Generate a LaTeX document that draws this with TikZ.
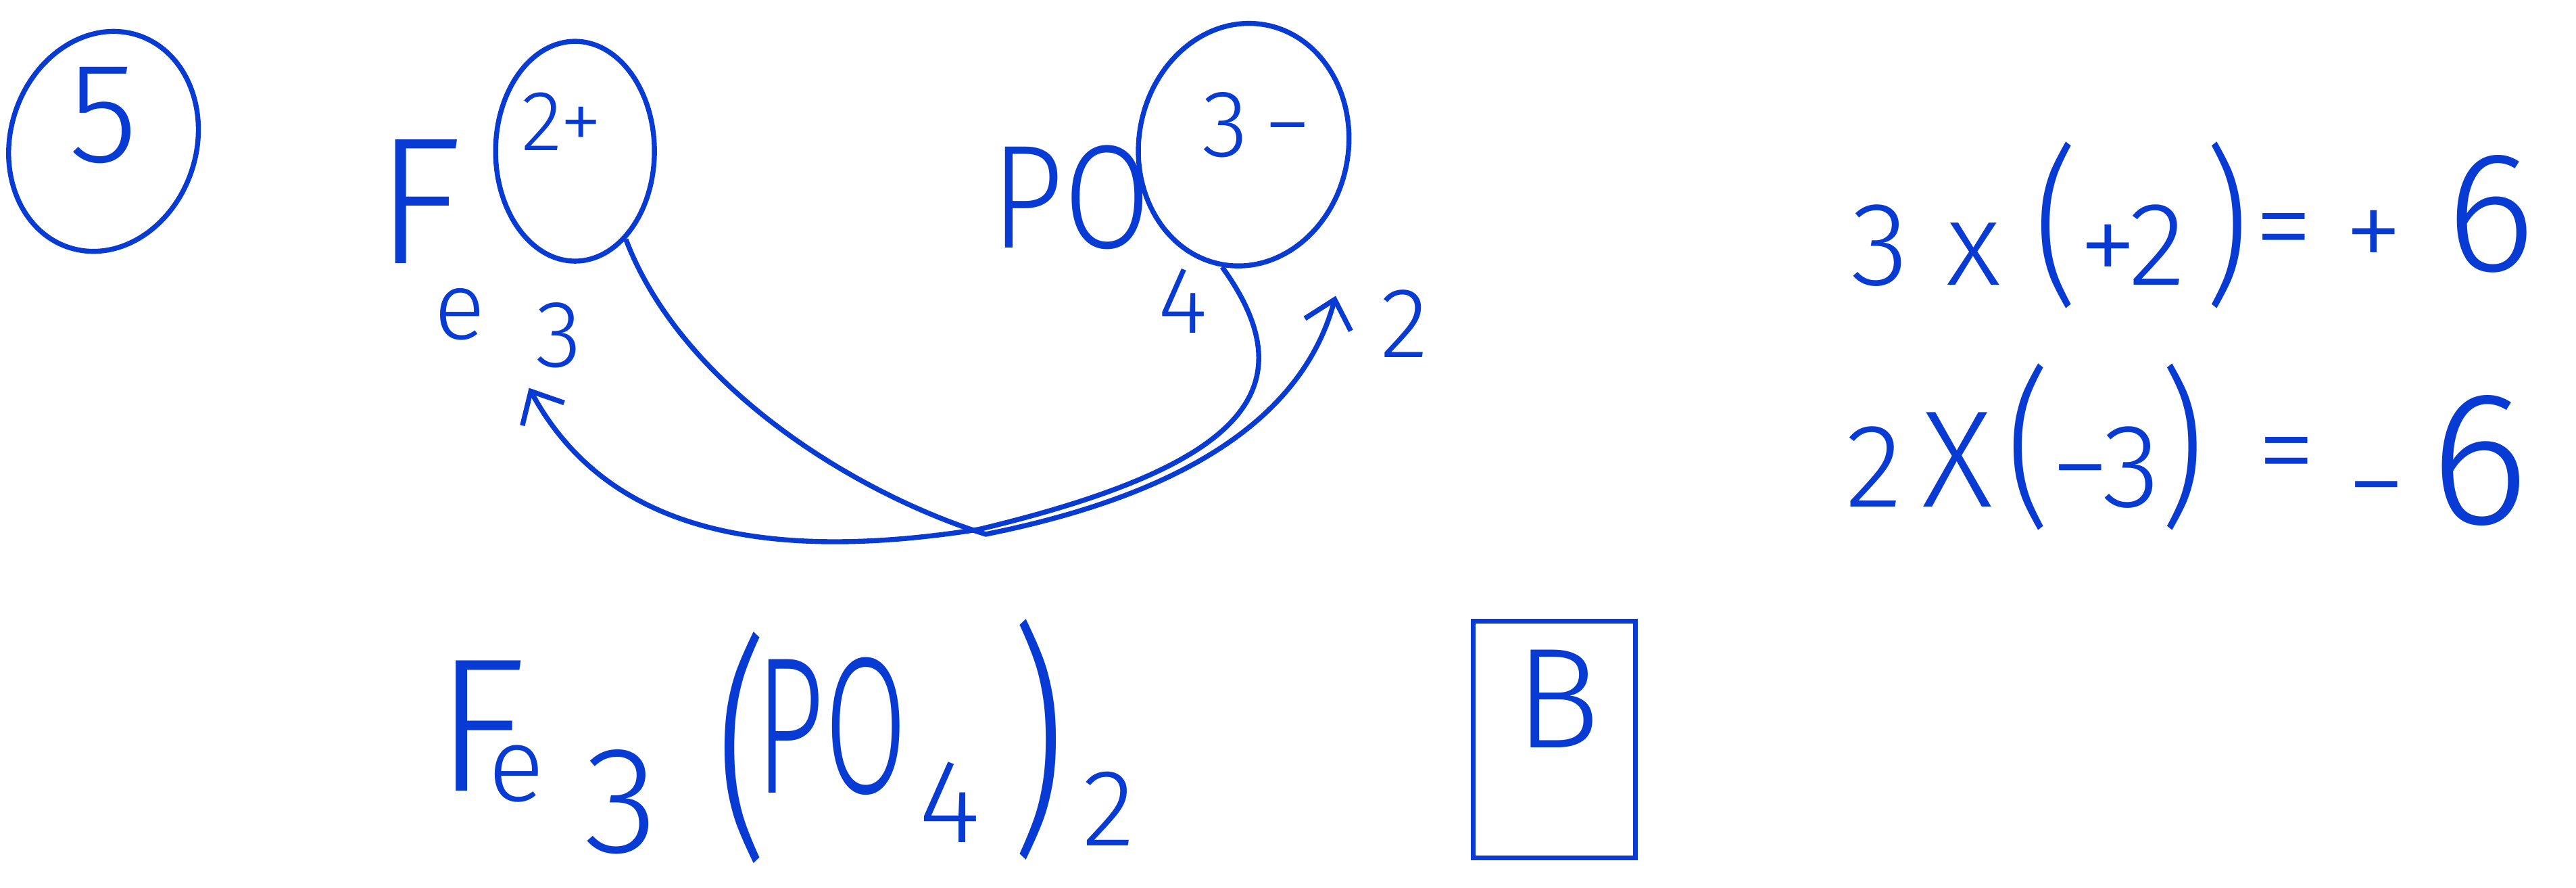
\documentclass[tikz,border=0pt]{standalone}
\usepackage{fontspec}
\setmainfont{Fira Sans}[UprightFont=* Light]
\usetikzlibrary{positioning,shapes.geometric,arrows.meta}
\definecolor{ink}{RGB}{8,58,212}

\begin{document}
\begin{tikzpicture}[x=0.0243cm,y=-0.0243cm,line width=2.1pt]
  \tikzstyle{hand}=[text=ink,inner sep=0pt]
  \tikzstyle{ring}=[draw=ink,ellipse,inner sep=0pt]
  \tikzstyle{swap}=[draw=ink,-{Straight Barb[length=11pt,width=20pt]}]
  \useasboundingbox (0,0) rectangle (1568,540);
  \fill[white] (0,0) rectangle (1568,540);
  % question number
  \node[ring,minimum width=2.75cm,minimum height=3.3cm,rotate=-18] (qring) at (63,86) {};
  \node[hand,font=\fontsize{60}{62}\selectfont] (qnum) at (63,70) {5};
  % the two ions
  \node[hand,font=\fontsize{76}{78}\selectfont] (fetop) at (262,146) {F\hspace{-12pt}\raisebox{-32pt}{\fontsize{40}{42}\selectfont e}};
  \node[hand,font=\fontsize{40}{42}\selectfont] (fesub) at (340,204) {3};
  \node[ring,minimum width=2.35cm,minimum height=3.25cm] (fering) at (350,92) {};
  \node[hand,font=\fontsize{36}{38}\selectfont] (fechg) at (342,74) {2+};
  \node[hand,font=\fontsize{62}{64}\selectfont] (potop) at (652,120) {\scalebox{0.86}[1]{PO}};
  \node[hand,font=\fontsize{40}{42}\selectfont] (posub) at (720,183) {4};
  \node[ring,minimum width=3.1cm,minimum height=3.6cm,rotate=-10] (poring) at (757,88) {};
  \node[hand,font=\fontsize{40}{42}\selectfont] (pochg) at (765,76) {3\,−};
  \node[hand,font=\fontsize{42}{44}\selectfont] (potwo) at (855,197) {2};
  % crossing the charges over
  \coordinate (tothree) at (322,236);
  \coordinate (totwo) at (813,180);
  \draw[swap] (fering.-60) .. controls (415,235) and (520,300) .. (600,325)
    .. controls (700,305) and (790,265) .. (totwo);
  \draw[swap] (poring.south) .. controls (800,240) and (750,285) .. (596,322)
    .. controls (450,345) and (365,315) .. (tothree);
  % charge check
  \node[hand,anchor=west,font=\fontsize{50}{52}\selectfont] (eqfe) at (1125,137) {3\hspace{16pt}x\hspace{14pt}{\fontsize{72}{72}\selectfont\scalebox{0.8}[1]{(}}+2\hspace{8pt}{\fontsize{72}{72}\selectfont\scalebox{0.8}[1]{)}}};
  \node[hand,font=\fontsize{50}{52}\selectfont] (eqfeis) at (1390,146) {=};
  \node[hand,anchor=east,font=\fontsize{50}{52}\selectfont] (eqfeval) at (1545,130) {+\hspace{18pt}{\fontsize{72}{72}\selectfont 6}};
  \node[hand,anchor=west,font=\fontsize{50}{52}\selectfont] (eqpo) at (1122,272) {2\hspace{8pt}{\fontsize{58}{58}\selectfont X}\hspace{6pt}{\fontsize{72}{72}\selectfont\scalebox{0.8}[1]{(}}−3{\fontsize{72}{72}\selectfont\scalebox{0.8}[1]{)}}};
  \node[hand,font=\fontsize{50}{52}\selectfont] (eqpois) at (1392,282) {=};
  \node[hand,anchor=east,font=\fontsize{50}{52}\selectfont] (eqpoval) at (1541,280) {−\hspace{10pt}{\fontsize{80}{80}\selectfont 6}};
  % result
  \node[hand,font=\fontsize{80}{82}\selectfont] (botfe) at (298,445) {F\hspace{-16pt}\raisebox{-4pt}{\fontsize{44}{46}\selectfont e}};
  \node[hand,font=\fontsize{64}{66}\selectfont] (botthree) at (378,488) {3};
  \node[hand,font=\fontsize{100}{100}\selectfont] (botopen) at (452,455) {\scalebox{0.68}[1]{(}};
  \node[hand,font=\fontsize{82}{84}\selectfont] (botpo) at (506,442) {\scalebox{0.62}[1]{PO}};
  \node[hand,font=\fontsize{50}{52}\selectfont] (botfour) at (578,488) {4};
  \node[hand,font=\fontsize{104}{104}\selectfont] (botclose) at (632,450) {\scalebox{0.68}[1]{)}};
  \node[hand,font=\fontsize{46}{48}\selectfont] (bottwo) at (675,492) {2};
  \node[draw=ink,minimum width=2.4cm,minimum height=3.5cm] (answer) at (946,450) {};
  \node[hand,font=\fontsize{60}{62}\selectfont] (answerb) at (948,425) {B};
\end{tikzpicture}
\end{document}
